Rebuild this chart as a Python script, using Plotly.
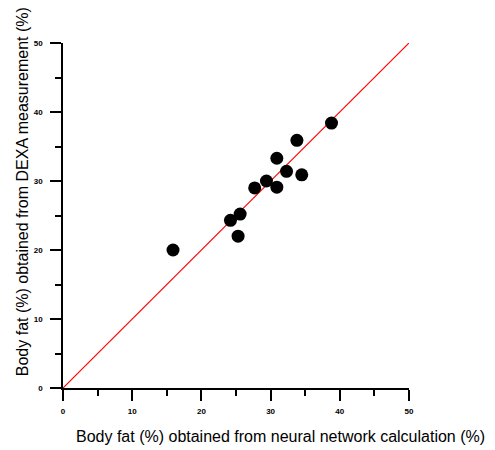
import plotly.graph_objects as go

# Data
nn_calc = [38.8, 33.8, 30.9, 32.3, 34.5, 29.4, 27.7, 30.9, 25.6, 24.2, 25.3, 15.9]
dexa = [38.4, 35.9, 33.3, 31.4, 30.9, 30.0, 29.0, 29.1, 25.2, 24.3, 22.0, 20.0]
identity = [0, 50]
tick_values = [0, 10, 20, 30, 40, 50]
x_title = "Body fat (%) obtained from neural network calculation (%)"
y_title = "Body fat (%) obtained from DEXA measurement (%)"

FONT = "Liberation Sans, Arial, sans-serif"

fig = go.Figure()
fig.add_trace(go.Scatter(x=identity, y=identity, mode="lines",
                         line=dict(color="#ff0000", width=1.2),
                         hoverinfo="skip", showlegend=False, cliponaxis=False))
fig.add_trace(go.Scatter(x=nn_calc, y=dexa, mode="markers",
                         marker=dict(color="black", size=13),
                         showlegend=False, cliponaxis=False))

axis_common = dict(range=[0, 50], tickvals=tick_values, ticks="outside",
                   ticklen=11, tickwidth=1.5, tickcolor="black",
                   showline=True, linecolor="black", linewidth=1.5,
                   showgrid=False, zeroline=False, fixedrange=True,
                   tickfont=dict(family=FONT, size=8, color="black", weight="bold"),
                   minor=dict(dtick=5, ticks="outside", ticklen=6,
                              tickwidth=1.5, tickcolor="black", showgrid=False))

fig.update_xaxes(**axis_common, ticklabelstandoff=4)
fig.update_yaxes(**axis_common, ticklabelstandoff=6)

fig.add_annotation(text=x_title, xref="paper", yref="paper",
                   x=0.630, y=-0.142, showarrow=False,
                   xanchor="center", yanchor="middle",
                   font=dict(family=FONT, size=16, color="black"))
fig.add_annotation(text=y_title, xref="paper", yref="paper",
                   x=-0.118, y=0.568, showarrow=False, textangle=-90,
                   xanchor="center", yanchor="middle",
                   font=dict(family=FONT, size=16, color="black"))

fig.update_layout(width=487, height=442,
                  margin=dict(l=55, r=86, t=35, b=62),
                  plot_bgcolor="white", paper_bgcolor="white",
                  font=dict(family=FONT, color="black"))

fig.write_html("out.html")
